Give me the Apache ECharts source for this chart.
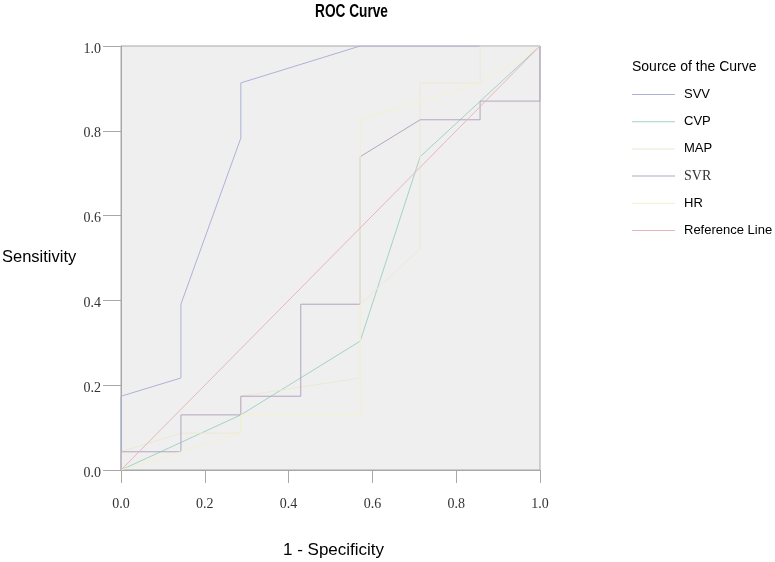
<!DOCTYPE html>
<html>
<head>
<meta charset="utf-8">
<script src="https://cdn.jsdelivr.net/npm/echarts@6/dist/echarts.min.js"></script>
<style>html,body{margin:0;padding:0;background:#fff;}#c{width:775px;height:562px;}</style>
</head>
<body>
<div id="c"></div>
<script>
// ---- data (1 - specificity, sensitivity) ----
const seriesNames = ['SVV', 'CVP', 'MAP', 'SVR', 'HR', 'Reference Line'];
const svv = [[0,0],[0,0.174],[0.143,0.217],[0.143,0.391],[0.286,0.783],[0.286,0.913],[0.571,1],[1,1]];
const cvp = [[0,0],[0.286,0.130],[0.571,0.304],[0.714,0.739],[1,1]];
const map = [[0,0],[0,0.043],[0.143,0.087],[0.286,0.087],[0.286,0.174],[0.571,0.217],[0.571,0.391],[0.714,0.522],[0.714,0.913],[0.857,0.913],[0.857,1],[1,1]];
const svr = [[0,0],[0,0.043],[0.143,0.043],[0.143,0.130],[0.286,0.130],[0.286,0.174],[0.429,0.174],[0.429,0.391],[0.571,0.391],[0.571,0.739],[0.714,0.826],[0.857,0.826],[0.857,0.870],[1,0.870],[1,1]];
const hr = [[0,0],[0.143,0.043],[0.286,0.087],[0.286,0.130],[0.571,0.130],[0.571,0.826],[0.714,0.870],[0.857,0.913],[1,1]];
const refLine = [[0,0],[1,1]];
const tickValues = [0, 0.2, 0.4, 0.6, 0.8, 1.0];
const tickLabels = ['0.0', '0.2', '0.4', '0.6', '0.8', '1.0'];

const colors = ['#adb1d8', '#a3d2c3', '#ebe9d2', '#b4a5c0', '#f1f1cf', '#e8b5bc'];
const allData = [svv, cvp, map, svr, hr, refLine];

const chart = echarts.init(document.getElementById('c'), null, {renderer: 'canvas'});
const sans = '"Liberation Sans", Arial, sans-serif';
const serif = '"Liberation Serif", "Times New Roman", serif';
const gray = '#a8a8a8';

function fmt(v) {
  const i = tickValues.findIndex(t => Math.abs(t - v) < 1e-6);
  const lab = i >= 0 ? tickLabels[i] : v.toFixed(1);
  return '{l|' + lab + '}';
}

chart.setOption({
  animation: false,
  backgroundColor: '#ffffff',
  grid: {left: 121, right: 235, top: 46, bottom: 92, show: true,
         backgroundColor: '#efefef', borderColor: gray, borderWidth: 1},
  xAxis: {
    type: 'value', min: 0, max: 1, interval: 0.2,
    axisLine: {show: true, lineStyle: {color: gray}},
    axisTick: {show: true, length: 13, lineStyle: {color: gray}},
    splitLine: {show: false},
    axisLabel: {margin: 27, formatter: v => fmt(v),
      rich: {l: {fontFamily: serif, fontSize: 14, color: '#333'}}}
  },
  yAxis: {
    type: 'value', min: 0, max: 1, interval: 0.2,
    axisLine: {show: true, lineStyle: {color: gray}},
    axisTick: {show: true, length: 18, lineStyle: {color: gray}},
    splitLine: {show: false},
    axisLabel: {margin: 20, formatter: v => fmt(v),
      rich: {l: {fontFamily: serif, fontSize: 14, color: '#333', padding: [6, 0, 0, 0]}}}
  },
  legend: {
    orient: 'vertical', left: 632, top: 87, padding: 0,
    itemWidth: 43, itemHeight: 1, itemGap: 12.2,
    icon: 'rect',
    data: seriesNames.map((n, i) => ({name: n, icon: 'rect', itemStyle: {color: colors[i]}})),
    textStyle: {fontFamily: sans, fontSize: 13, color: '#000', padding: [0, 0, 0, 4], lineHeight: 15,
      rich: {s: {fontFamily: serif, fontSize: 14, color: '#333', lineHeight: 15}}},
    formatter: n => n === 'SVR' ? '{s|SVR}' : n
  },
  graphic: [
    {type: 'text', left: 315, top: 2, scaleX: 0.72, style: {text: 'ROC Curve', font: 'bold 19px ' + sans, fill: '#000'}},
    {type: 'text', left: 632, top: 60, style: {text: 'Source of the Curve', font: '14px ' + sans, fill: '#000'}},
    {type: 'text', left: 2, top: 249, style: {text: 'Sensitivity', font: '16.5px ' + sans, fill: '#000'}},
    {type: 'text', left: 283, top: 542, style: {text: '1 - Specificity', font: '17px ' + sans, fill: '#000'}}
  ],
  series: seriesNames.map((n, i) => ({
    name: n, type: 'line', data: allData[i], symbol: 'none', showSymbol: false,
    lineStyle: {color: colors[i], width: 1}, itemStyle: {color: colors[i]},
    z: 2 + i
  }))
});
</script>
</body>
</html>
